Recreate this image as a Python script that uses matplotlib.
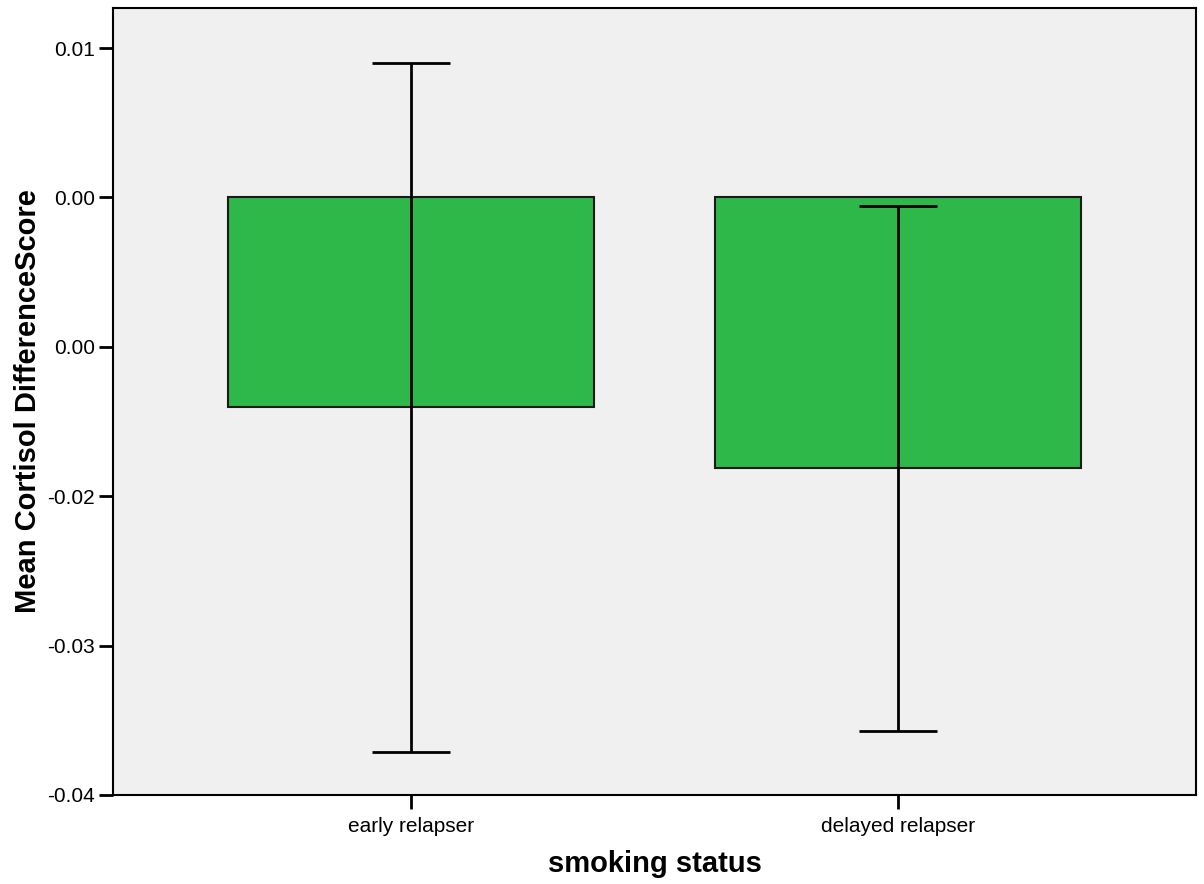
import numpy as np
import matplotlib
matplotlib.use("Agg")
import matplotlib.pyplot as plt

# Datos
categorias = ["early relapser", "delayed relapser"]
medias = [-0.0140, -0.0181]
ic_inferior = [-0.0371, -0.0357]
ic_superior = [0.0090, -0.0006]

# Etiquetas del eje y tal como aparecen (redondeo original)
ticks_y = [0.01, 0.0, -0.01, -0.02, -0.03, -0.04]
etiquetas_y = ["0.01", "0.00", "0.00", "-0.02", "-0.03", "-0.04"]

plt.rcParams['font.family'] = ['Liberation Sans', 'DejaVu Sans']

fig = plt.figure(figsize=(12.04, 8.84), dpi=100)
ax = fig.add_axes([113 / 1204, 1 - 795 / 884, (1196 - 113) / 1204, (795 - 8) / 884])
ax.set_facecolor('#f0f0f0')

x = np.arange(len(categorias))
medias = np.array(medias)
err = np.array([medias - np.array(ic_inferior), np.array(ic_superior) - medias])

ax.bar(x, medias, width=0.752, color='#2eb84a', edgecolor='#1a1a1a', linewidth=1.5)
ax.errorbar(x, medias, yerr=err, fmt='none', ecolor='black', elinewidth=2,
            capsize=28, capthick=2)

ax.set_xlim(-0.612, 1.612)
ax.set_ylim(-0.04, 0.01268)
ax.set_xticks(x)
ax.set_xticklabels(categorias, fontsize=15)
ax.set_yticks(ticks_y)
ax.set_yticklabels(etiquetas_y, fontsize=15)
ax.tick_params(axis='both', length=10, width=2, color='black', pad=3)
ax.tick_params(axis='x', pad=6)

for lado in ax.spines.values():
    lado.set_linewidth(1.5)

ax.set_xlabel('smoking status', fontsize=21, fontweight='bold', labelpad=10)
ax.set_ylabel('Mean Cortisol DifferenceScore', fontsize=21, fontweight='bold', labelpad=4)

fig.savefig('out.png', dpi=100)
